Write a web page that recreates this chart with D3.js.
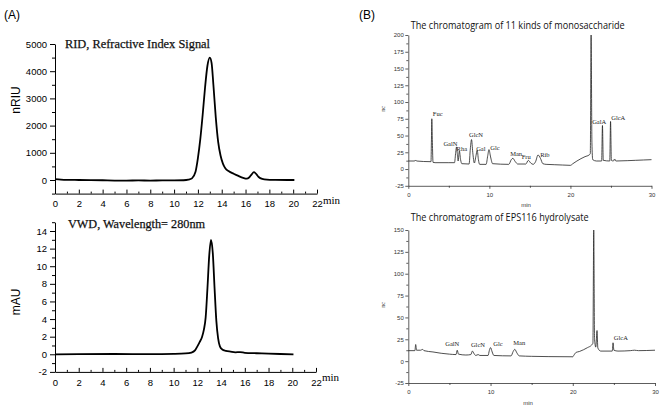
<!DOCTYPE html>
<html><head><meta charset="utf-8">
<script src="https://cdn.jsdelivr.net/npm/d3@7"></script>
<style>body{margin:0;background:#fff}</style>
</head><body>
<svg id="c" width="660" height="408" xmlns="http://www.w3.org/2000/svg"></svg>
<script>
// ---------- DATA ----------
// Panel A (top): RID signal, [time min, nRIU]
const ridTrace = [[0,35],[0.5,15],[1,5],[2,0],[3,-5],[4,-10],[5,-20],[6,-20],[7,-15],[8,-20],[9,-15],[10,-15],[10.8,-10],[11.2,10],[11.5,60],[11.8,300],[12.0,800],[12.2,1500],[12.4,2400],[12.6,3400],[12.8,4200],[13.0,4500],[13.15,4300],[13.3,3500],[13.5,2300],[13.7,1400],[13.9,900],[14.1,600],[14.3,430],[14.6,320],[15.0,230],[15.4,150],[15.8,80],[16.1,50],[16.3,90],[16.5,200],[16.7,290],[16.9,220],[17.1,110],[17.4,40],[17.8,15],[18.5,5],[19.5,0],[20.1,0]];
// Panel A (bottom): VWD 280 nm, [time min, mAU]
const vwdTrace = [[0,0],[2,0.02],[5,0.03],[8,0.02],[10,0.05],[11,0.1],[11.5,0.2],[11.8,0.45],[12.0,0.9],[12.2,1.4],[12.4,2.0],[12.55,2.8],[12.7,4.2],[12.85,7.5],[13.0,11.2],[13.15,13.0],[13.3,11.5],[13.45,7.5],[13.6,3.8],[13.75,1.8],[13.9,0.9],[14.1,0.55],[14.4,0.4],[14.8,0.3],[15.2,0.22],[15.6,0.25],[16,0.17],[17,0.12],[18,0.07],[19,0.03],[20.1,0]];
// Panel B (top): 11 monosaccharide standards, [time min, nC]
const stdTrace = [[0,12],[0.8,12],[0.9,13.5],[1.0,12],[2.8,11],[2.85,40],[2.9,75],[2.97,40],[3.05,10],[3.3,9.5],[5.0,9.5],[5.7,9.5],[5.85,25],[5.95,33],[6.05,22],[6.15,12],[6.3,27],[6.45,14],[6.6,8],[7.5,7.5],[7.65,30],[7.8,44],[7.95,25],[8.15,9],[8.35,20],[8.5,28],[8.65,14],[8.8,7],[9.6,7],[9.8,20],[9.95,29],[10.15,18],[10.4,8],[12.4,7],[12.7,14],[12.9,16],[13.2,11],[13.5,7.5],[14.5,7.5],[14.8,13],[15.1,9],[15.4,7],[15.7,11],[16.0,21],[16.3,16],[16.6,8],[17,7],[18,6.5],[19,6],[20,5.5],[20.3,8],[20.8,12],[21.3,15.5],[21.8,18.5],[22.3,21],[22.45,23],[22.55,200],[22.65,40],[22.75,14],[23.2,12],[23.85,12],[23.95,65],[24.05,13],[24.85,12],[24.95,71],[25.05,13],[25.3,12],[25.45,15],[25.6,12],[27,12.5],[28,13],[29,13.5],[30,14]];
// Panel B (bottom): EPS116 hydrolysate, [time min, nC]
const epsTrace = [[0,12],[0.8,12],[0.9,19],[1.0,12.5],[1.5,12.5],[1.75,13.5],[1.9,12],[3,10.5],[4,9],[5,8],[5.8,7.5],[5.95,12.5],[6.1,8],[7,7],[7.6,7.5],[7.8,11.5],[8.0,8.5],[8.2,6.5],[8.5,7.5],[8.7,6.5],[9.7,6.5],[9.85,12],[10.0,15.5],[10.2,10.5],[10.4,6.5],[12.5,6],[12.75,11],[12.95,13.5],[13.2,9.5],[13.5,6],[15,5.5],[17,5.2],[20,5],[20.15,7],[20.4,10],[20.8,11],[21.3,13],[21.8,15.5],[22.3,18.5],[22.45,20.5],[22.55,150],[22.65,25],[22.8,16],[22.95,35],[23.05,15],[23.4,11.5],[24.8,11.5],[24.9,21],[25.0,12.5],[25.5,11.5],[27,12],[27.5,12.5],[28,12],[30,12.5]];
// Peak annotations: [label, time min, signal]
const stdLabels = [["Fuc",3.63,79],["GalN",5.2,35],["Rha",6.6,27],["GlcN",8.35,48],["Gal",8.95,27],["Glc",10.7,29],["Man",13.3,20],["Fru",14.55,15],["Rib",16.85,18],["GalA",23.55,67],["GlcA",25.9,73]];
const epsLabels = [["GalN",5.35,17],["GlcN",8.47,16.4],["Glc",10.9,17],["Man",13.5,18],["GlcA",25.85,24]];
// Tick values
const aXTicks = [0,2,4,6,8,10,12,14,16,18,20,22];
const aXMinor = [1,3,5,7,9,11,13,15,17,19,21];
const ridYTicks = [0,1000,2000,3000,4000,5000];
const ridYMinor = [-500,500,1500,2500,3500,4500];
const vwdYTicks = [-2,0,2,4,6,8,10,12,14];
const vwdYMinor = [-1,1,3,5,7,9,11,13,15];
const bXTicks = [0,10,20,30];
const bXMinor = [5,15,25];
const stdYTicks = [-25,0,25,50,75,100,125,150,175,200];
const stdYMinor = [-12.5,12.5,37.5,62.5,87.5,112.5,137.5,162.5,187.5];
const epsYTicks = [-25,0,25,50,75,100,125,150];
const epsYMinor = [-12.5,12.5,37.5,62.5,87.5,112.5,137.5];

// ---------- DRAW ----------
const svg = d3.select("#c");
svg.append("rect").attr("width",660).attr("height",408).attr("fill","#fff");
const plain = d => String(d);

function styleAxis(g, font, size, color, sw){
  g.selectAll("path,line").attr("stroke",color).attr("stroke-width",sw);
  g.selectAll("text").attr("font-family",font).attr("font-size",size).attr("fill",color);
}

function panelA(cfg){
  const x = d3.scaleLinear().domain([0,22]).range(cfg.xr);
  const y = d3.scaleLinear().domain(cfg.yd).range(cfg.yr);
  const y0 = cfg.yr[0];
  let g = svg.append("g").attr("transform",`translate(0,${y0})`)
    .call(d3.axisBottom(x).tickValues(aXTicks).tickFormat(plain).tickSize(-4).tickSizeOuter(0).tickPadding(cfg.xpad));
  styleAxis(g,"Liberation Sans",9.5,"#000",1);
  g = svg.append("g").attr("transform",`translate(0,${y0})`)
    .call(d3.axisBottom(x).tickValues(aXMinor).tickSize(-2).tickSizeOuter(0).tickFormat(""));
  styleAxis(g,"Liberation Sans",9.5,"#000",1); g.select(".domain").remove();
  g = svg.append("g").attr("transform",`translate(${cfg.xr[0]},0)`)
    .call(d3.axisLeft(y).tickValues(cfg.yt).tickFormat(plain).tickSize(5).tickSizeOuter(0).tickPadding(3));
  styleAxis(g,"Liberation Sans",9.5,"#000",1);
  g = svg.append("g").attr("transform",`translate(${cfg.xr[0]},0)`)
    .call(d3.axisLeft(y).tickValues(cfg.ym).tickSize(3).tickSizeOuter(0).tickFormat(""));
  styleAxis(g,"Liberation Sans",9.5,"#000",1); g.select(".domain").remove();
  svg.append("path").datum(cfg.data)
    .attr("d", d3.line().x(d=>x(d[0])).y(d=>y(d[1])).curve(d3.curveMonotoneX))
    .attr("fill","none").attr("stroke","#000").attr("stroke-width",1.8).attr("stroke-linejoin","round");
  svg.append("text").attr("x",cfg.title[1]).attr("y",cfg.title[2]).text(cfg.title[0])
    .attr("font-family","Liberation Serif").attr("font-size",12.5).attr("fill","#111")
    .attr("stroke","#111").attr("stroke-width",0.25)
    .attr("textLength",cfg.title[3]).attr("lengthAdjust","spacingAndGlyphs");
  svg.append("text").attr("x",cfg.xr[1]+6).attr("y",cfg.minY).text("min")
    .attr("font-family","Liberation Serif").attr("font-size",11).attr("fill","#000");
  svg.append("text").attr("transform",`translate(${cfg.ylab[1]},${cfg.ylab[2]}) rotate(-90)`)
    .attr("text-anchor","middle").text(cfg.ylab[0])
    .attr("font-family","Liberation Sans").attr("font-size",12).attr("fill","#000");
}

panelA({xr:[55,317], yd:[-500,5000], yr:[193.6,44], yt:ridYTicks, ym:ridYMinor, data:ridTrace,
  xpad:7, title:["RID, Refractive Index Signal",65,48,145], minY:204, ylab:["nRIU",20,100]});
panelA({xr:[55,316], yd:[-2,15], yr:[371.9,222.2], yt:vwdYTicks, ym:vwdYMinor, data:vwdTrace,
  xpad:7, title:["VWD, Wavelength= 280nm",68,228,137], minY:381, ylab:["mAU",20,302]});

function panelB(cfg){
  const x = d3.scaleLinear().domain([0,30]).range(cfg.xr);
  const y = d3.scaleLinear().domain(cfg.yd).range(cfg.yr);
  const y0 = cfg.yr[0], col="#333";
  let g = svg.append("g").attr("transform",`translate(0,${y0})`)
    .call(d3.axisBottom(x).tickValues(bXTicks).tickFormat(plain).tickSize(3).tickSizeOuter(0).tickPadding(4));
  styleAxis(g,"Liberation Sans",6,col,0.8);
  g = svg.append("g").attr("transform",`translate(0,${y0})`)
    .call(d3.axisBottom(x).tickValues(bXMinor).tickSize(2).tickSizeOuter(0).tickFormat(""));
  styleAxis(g,"Liberation Sans",6,col,0.8); g.select(".domain").remove();
  g = svg.append("g").attr("transform",`translate(${cfg.xr[0]},0)`)
    .call(d3.axisLeft(y).tickValues(cfg.yt).tickFormat(plain).tickSize(3).tickSizeOuter(0).tickPadding(1.5));
  styleAxis(g,"Liberation Sans",6,col,0.8);
  g = svg.append("g").attr("transform",`translate(${cfg.xr[0]},0)`)
    .call(d3.axisLeft(y).tickValues(cfg.ym).tickSize(2).tickSizeOuter(0).tickFormat(""));
  styleAxis(g,"Liberation Sans",6,col,0.8); g.select(".domain").remove();
  svg.append("path").datum(cfg.data)
    .attr("d", d3.line().x(d=>x(d[0])).y(d=>y(d[1])).curve(d3.curveMonotoneX))
    .attr("fill","none").attr("stroke","#222").attr("stroke-width",0.8);
  svg.append("g").selectAll("text").data(cfg.labels).join("text")
    .attr("x",d=>x(d[1])).attr("y",d=>y(d[2])).attr("text-anchor","middle").text(d=>d[0])
    .attr("font-family","Liberation Serif").attr("font-size",6.5).attr("fill","#222");
  svg.append("text").attr("x",cfg.title[1]).attr("y",cfg.title[2]).text(cfg.title[0])
    .attr("font-family","Open Sans").attr("font-size",10).attr("fill","#111")
    .attr("textLength",cfg.title[3]).attr("lengthAdjust","spacingAndGlyphs");
  svg.append("text").attr("x",cfg.minX).attr("y",cfg.minY).attr("text-anchor","middle").text("min")
    .attr("font-family","Liberation Sans").attr("font-size",6).attr("fill","#333");
  svg.append("text").attr("transform",`translate(${cfg.ncX},${cfg.ncY}) rotate(-90)`)
    .attr("text-anchor","middle").text("nc")
    .attr("font-family","Liberation Serif").attr("font-size",6).attr("fill","#333");
}

panelB({xr:[408.3,651.5], yd:[-25,200], yr:[185.8,35], yt:stdYTicks, ym:stdYMinor, data:stdTrace,
  labels:stdLabels, title:["The chromatogram of 11 kinds of monosaccharide",410.7,29,214],
  minX:526, minY:207, ncX:385, ncY:109});
panelB({xr:[408.3,655], yd:[-25,150], yr:[383,230], yt:epsYTicks, ym:epsYMinor, data:epsTrace,
  labels:epsLabels, title:["The chromatogram of EPS116 hydrolysate",410.7,221,178],
  minX:528, minY:405, ncX:385, ncY:305});

// Panel letters
svg.append("text").attr("x",4).attr("y",19).text("(A)")
  .attr("font-family","Liberation Sans").attr("font-size",12).attr("fill","#000");
svg.append("text").attr("x",359).attr("y",19).text("(B)")
  .attr("font-family","Liberation Sans").attr("font-size",12).attr("fill","#000");
</script>
</body></html>
